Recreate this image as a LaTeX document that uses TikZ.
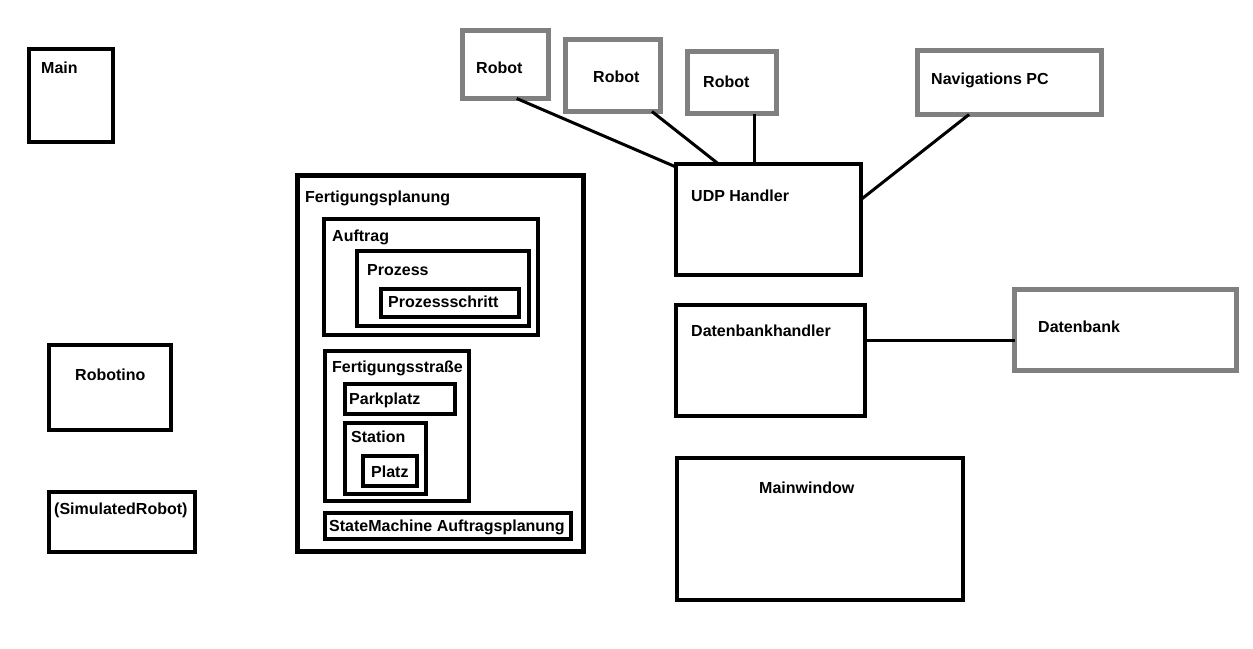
\documentclass[tikz,border=0pt]{standalone}
\usepackage{fontspec}
\setmainfont{Liberation Sans}
\usepackage{tikz}
\usetikzlibrary{calc}
\definecolor{rgray}{RGB}{128,128,128}

\begin{document}
\begin{tikzpicture}[x=1pt,y=-1pt,
	box/.style={draw,line width=4.5pt,anchor=north west,inner sep=0pt,outer sep=0pt},
	gbox/.style={box,draw=rgray,line width=5pt},
	lbl/.style={anchor=base west,inner sep=0pt,font=\bfseries\fontsize{16}{19}\selectfont},
	con/.style={line width=3pt}]
				\useasboundingbox (0,0) rectangle (1253,648);
				% linke Spalte
				\node[box,minimum width=84,minimum height=93] (main) at (29,49) {};
				\node[lbl] (mainT) at (41,73) {Main};
				\node[box,minimum width=122,minimum height=85] (robotino) at (49,345) {};
				\node[lbl] (robotinoT) at (75,380) {Robotino};
				\node[box,minimum width=146,minimum height=60] (simrobot) at (49,492) {};
				\node[lbl] (simrobotT) at (54,514) {(SimulatedRobot)};
				% Fertigungsplanung
				\node[box,minimum width=286,minimum height=376] (fp) at (297.5,175.5) {};
				\node[lbl] (fpT) at (305,202) {Fertigungsplanung};
				\node[box,minimum width=214,minimum height=116] (auftrag) at (324,219) {};
				\node[lbl] (auftragT) at (332,241) {Auftrag};
				\node[box,minimum width=172,minimum height=75] (prozess) at (357,251) {};
				\node[lbl] (prozessT) at (367,275) {Prozess};
				\node[box,minimum width=138,minimum height=28] (pschritt) at (381,289) {};
				\node[lbl] (pschrittT) at (388,307) {Prozessschritt};
				\node[box,minimum width=144,minimum height=150] (fstr) at (325,351) {};
				\node[lbl] (fstrT) at (332,372) {Fertigungsstraße};
				\node[box,minimum width=110,minimum height=30] (parkplatz) at (345,384) {};
				\node[lbl] (parkplatzT) at (349,404) {Parkplatz};
				\node[box,minimum width=81,minimum height=71] (station) at (345,423) {};
				\node[lbl] (stationT) at (351,442) {Station};
				\node[box,minimum width=54,minimum height=30] (platz) at (363,456) {};
				\node[lbl] (platzT) at (371,477) {Platz};
				\node[box,minimum width=246,minimum height=26] (sm) at (325,513) {};
				\node[lbl] (smT) at (329,531) {StateMachine Auftragsplanung};
				% Netzwerk
				\node[gbox,minimum width=86,minimum height=68] (r1) at (462.5,30.5) {};
				\node[lbl] (r1T) at (476,73) {Robot};
				\node[gbox,minimum width=95,minimum height=72] (r2) at (565.5,39.5) {};
				\node[lbl] (r2T) at (593,82) {Robot};
				\node[gbox,minimum width=89,minimum height=62] (r3) at (687.5,51.5) {};
				\node[lbl] (r3T) at (703,87) {Robot};
				\node[gbox,minimum width=184,minimum height=64] (nav) at (917.5,50.5) {};
				\node[lbl] (navT) at (931,84) {Navigations PC};
				\node[box,minimum width=185,minimum height=111] (udp) at (676,164) {};
				\node[lbl] (udpT) at (691,201) {UDP Handler};
				\node[box,minimum width=189,minimum height=111] (dbh) at (676,305) {};
				\node[lbl] (dbhT) at (691,336) {Datenbankhandler};
				\node[gbox,minimum width=222,minimum height=81] (db) at (1014.5,289.5) {};
				\node[lbl] (dbT) at (1038,332) {Datenbank};
				\node[box,minimum width=286,minimum height=142] (mainwin) at (677,458) {};
				\node[lbl] (mainwinT) at (759,493) {Mainwindow};
				% Verbindungen
				\coordinate (r3B) at ($(r3.south west)!0.75!(r3.south east)$);
				\coordinate (dbhR) at ($(dbh.north east)!0.32!(dbh.south east)$);
				\draw[con] ($(r1.south west)!0.63!(r1.south east)$) -- ($(udp.north west)+(0,3)$);
				\draw[con] ($(r2.south west)!0.91!(r2.south east)$) -- ($(udp.north west)!0.23!(udp.north east)$);
				\draw[con] (r3B) -- (r3B |- udp.north);
				\draw[con] ($(nav.south west)!0.28!(nav.south east)$) -- ($(udp.north east)!0.32!(udp.south east)$);
				\draw[con] (dbhR) -- (dbhR -| db.west);
			\end{tikzpicture}
\end{document}
